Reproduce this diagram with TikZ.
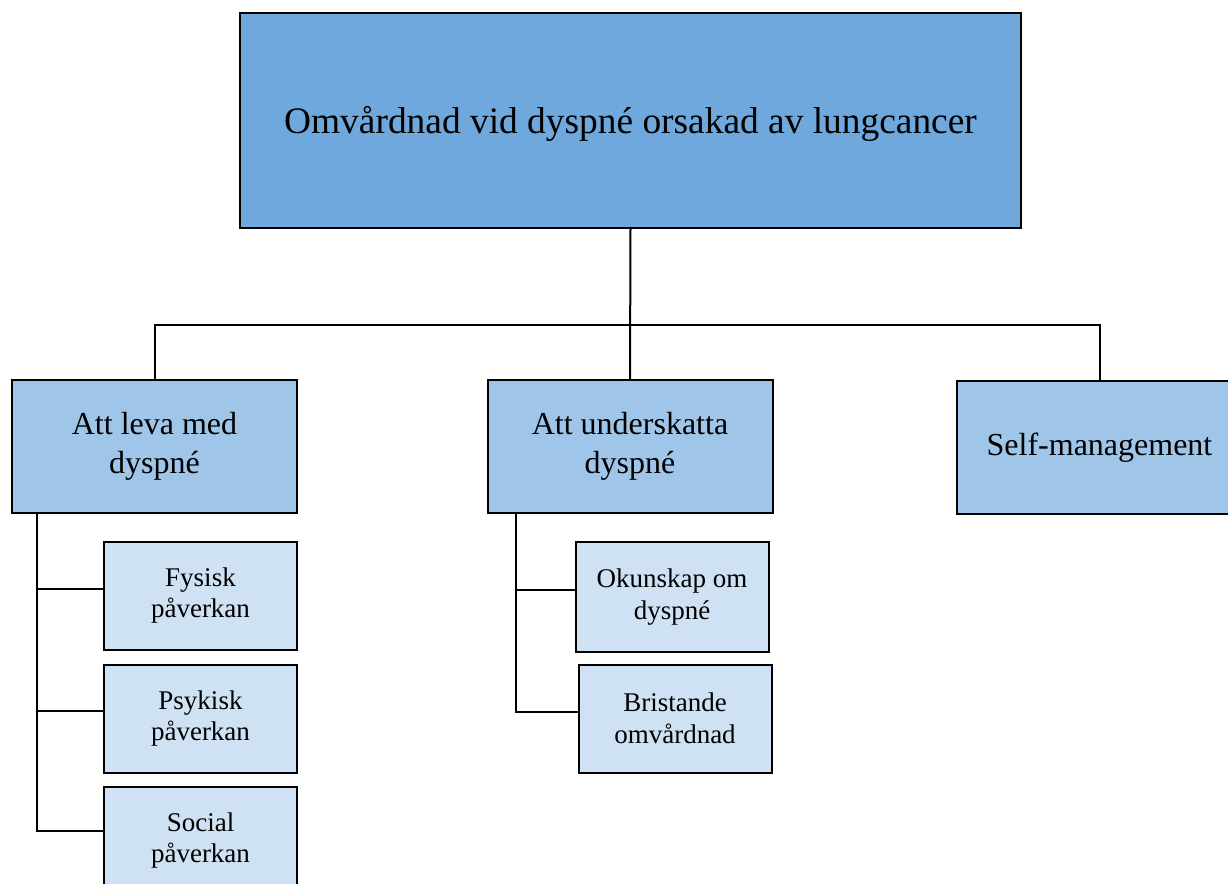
\documentclass[tikz,border=0pt]{standalone}
\usepackage{fontspec}
\setmainfont{Liberation Serif}
\usepackage{tikz}
\usetikzlibrary{positioning}
\definecolor{topblue}{HTML}{6FA8DC}
\definecolor{midblue}{HTML}{9FC5E8}
\definecolor{lowblue}{HTML}{CFE2F3}

\begin{document}
\begin{tikzpicture}[x=0.5pt, y=-0.5pt, line width=1pt,
        topbox/.style={draw, fill=topblue, minimum width=390.5pt, minimum height=107.5pt,
            text height=17pt, text depth=4pt, font=\fontsize{18.7}{22}\selectfont},
        midbox/.style={draw, fill=midblue, minimum width=142.5pt, minimum height=66.5pt,
            align=center, font=\fontsize{16}{19.5}\selectfont},
        lowbox/.style={draw, fill=lowblue, minimum width=96.5pt, minimum height=54pt,
            align=center, font=\fontsize{13.5}{15.8}\selectfont}]
        \useasboundingbox (0,0) rectangle (1228,884);

        \node[topbox] (top) at (630.5,120.5) {Omvårdnad vid dyspné orsakad av lungcancer};

        \node[midbox] (leva) at (154.5,446.5) {Att leva med\\dyspné};
        \node[midbox] (under) at (630,446.5) {Att underskatta\\dyspné};
        \node[midbox] (self) at (1099.5,447.5) {Self-management};

        \node[lowbox] (fysisk) at (200.5,595.5) {Fysisk\\påverkan};
        \node[lowbox] (psykisk) at (200.5,718.5) {Psykisk\\påverkan};
        \node[lowbox] (social) at (200.5,840.5) {Social\\påverkan};
        \node[lowbox, minimum height=55pt] (okunskap) at (672,597) {Okunskap om\\dyspné};
        \node[lowbox] (bristande) at (675,718.5) {Bristande\\omvårdnad};

        \coordinate (hub) at (630,325);
        \coordinate (levastem) at (37,513);
        \coordinate (understem) at (516,513);

        \draw (top.south) -- (under.north);
        \draw (leva.north) |- (hub) -| (self.north);

        \draw (levastem) |- ([yshift=5pt]social.west);
        \draw (levastem |- 0,589) -- ([yshift=3.25pt]fysisk.west);
        \draw (levastem |- 0,711) -- ([yshift=3.75pt]psykisk.west);

        \draw (understem) |- ([yshift=3.25pt]bristande.west);
        \draw (understem |- 0,590) -- ([yshift=3.5pt]okunskap.west);
    \end{tikzpicture}
\end{document}
